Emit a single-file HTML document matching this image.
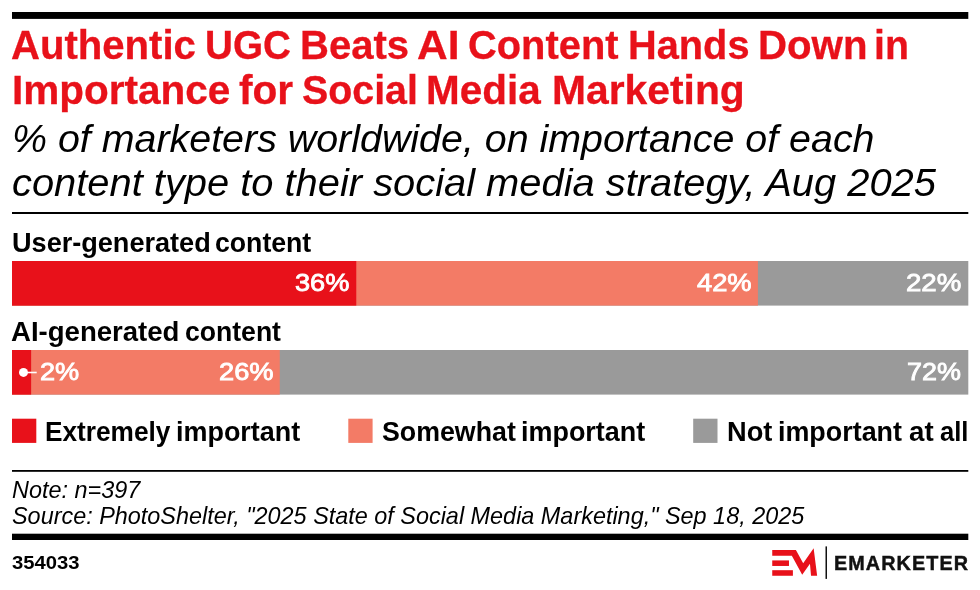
<!DOCTYPE html>
<html lang="en"><head><meta charset="utf-8"><title>Authentic UGC Beats AI Content Hands Down in Importance for Social Media Marketing</title>
<style>
html,body{margin:0;padding:0;background:#fff}
body{width:980px;height:590px;position:relative;overflow:hidden;font-family:"Liberation Sans", Arial, sans-serif}
h1,h2,h3,p,figure,figcaption,ul,li{margin:0;padding:0;font-size:inherit;font-weight:inherit;list-style:none}
.gfx{position:absolute;left:0;top:0;display:block}
.t{position:absolute;white-space:nowrap;line-height:1;transform-origin:0 0;margin:0}
.h1a0{left:11.34px;top:26.00px;font-size:40.2px;font-weight:700;font-style:normal;color:#e8111a;transform:scaleX(0.9977);-webkit-text-stroke:0.3px #e8111a;}
.h1a1{left:204.91px;top:26.00px;font-size:40.2px;font-weight:700;font-style:normal;color:#e8111a;transform:scaleX(0.9617);-webkit-text-stroke:0.3px #e8111a;}
.h1a2{left:300.05px;top:26.00px;font-size:40.2px;font-weight:700;font-style:normal;color:#e8111a;transform:scaleX(0.9969);-webkit-text-stroke:0.3px #e8111a;}
.h1a3{left:417.03px;top:26.00px;font-size:40.2px;font-weight:700;font-style:normal;color:#e8111a;transform:scaleX(1.0564);-webkit-text-stroke:0.3px #e8111a;}
.h1a4{left:467.95px;top:26.00px;font-size:40.2px;font-weight:700;font-style:normal;color:#e8111a;transform:scaleX(0.9915);-webkit-text-stroke:0.3px #e8111a;}
.h1a5{left:627.87px;top:26.00px;font-size:40.2px;font-weight:700;font-style:normal;color:#e8111a;transform:scaleX(0.9892);-webkit-text-stroke:0.3px #e8111a;}
.h1a6{left:757.94px;top:26.00px;font-size:40.2px;font-weight:700;font-style:normal;color:#e8111a;transform:scaleX(1.0008);-webkit-text-stroke:0.3px #e8111a;}
.h1a7{left:873.79px;top:26.00px;font-size:40.2px;font-weight:700;font-style:normal;color:#e8111a;transform:scaleX(0.9763);-webkit-text-stroke:0.3px #e8111a;}
.h1b0{left:12.13px;top:71.00px;font-size:40.2px;font-weight:700;font-style:normal;color:#e8111a;transform:scaleX(1.0079);-webkit-text-stroke:0.3px #e8111a;}
.h1b1{left:238.94px;top:71.00px;font-size:40.2px;font-weight:700;font-style:normal;color:#e8111a;transform:scaleX(1.0103);-webkit-text-stroke:0.3px #e8111a;}
.h1b2{left:301.69px;top:71.00px;font-size:40.2px;font-weight:700;font-style:normal;color:#e8111a;transform:scaleX(0.9788);-webkit-text-stroke:0.3px #e8111a;}
.h1b3{left:425.93px;top:71.00px;font-size:40.2px;font-weight:700;font-style:normal;color:#e8111a;transform:scaleX(1.0069);-webkit-text-stroke:0.3px #e8111a;}
.h1b4{left:552.11px;top:71.00px;font-size:40.2px;font-weight:700;font-style:normal;color:#e8111a;transform:scaleX(1.0156);-webkit-text-stroke:0.3px #e8111a;}
.h2a{left:12.46px;top:120.00px;font-size:38.4px;font-weight:400;font-style:italic;color:#000;transform:scaleX(1.0259);}
.h2b{left:11.74px;top:164.00px;font-size:38.4px;font-weight:400;font-style:italic;color:#000;transform:scaleX(1.0382);}
.cat1_0{left:11.68px;top:229.00px;font-size:27.9px;font-weight:700;font-style:normal;color:#000;transform:scaleX(0.9712);}
.cat1_1{left:215.30px;top:229.00px;font-size:27.9px;font-weight:700;font-style:normal;color:#000;transform:scaleX(0.9556);}
.cat2_0{left:11.43px;top:318.00px;font-size:27.9px;font-weight:700;font-style:normal;color:#000;transform:scaleX(0.9880);}
.cat2_1{left:184.50px;top:318.00px;font-size:27.9px;font-weight:700;font-style:normal;color:#000;transform:scaleX(0.9530);}
.v36{left:295.40px;top:271.00px;font-size:24.8px;font-weight:400;font-style:normal;color:#fff;transform:scaleX(1.0957);-webkit-text-stroke:0.85px #fff;}
.v42{left:696.89px;top:271.00px;font-size:24.8px;font-weight:400;font-style:normal;color:#fff;transform:scaleX(1.1003);-webkit-text-stroke:0.85px #fff;}
.v22{left:906.08px;top:271.00px;font-size:24.8px;font-weight:400;font-style:normal;color:#fff;transform:scaleX(1.1147);-webkit-text-stroke:0.85px #fff;}
.v2{left:39.74px;top:360.00px;font-size:24.8px;font-weight:400;font-style:normal;color:#fff;transform:scaleX(1.0951);-webkit-text-stroke:0.85px #fff;}
.v26{left:218.79px;top:360.00px;font-size:24.8px;font-weight:400;font-style:normal;color:#fff;transform:scaleX(1.0982);-webkit-text-stroke:0.85px #fff;}
.v72{left:907.49px;top:360.00px;font-size:24.8px;font-weight:400;font-style:normal;color:#fff;transform:scaleX(1.0862);-webkit-text-stroke:0.85px #fff;}
.lg1_0{left:45.35px;top:418.00px;font-size:27.6px;font-weight:700;font-style:normal;color:#000;transform:scaleX(0.9503);}
.lg1_1{left:176.13px;top:418.00px;font-size:27.6px;font-weight:700;font-style:normal;color:#000;transform:scaleX(0.9766);}
.lg2_0{left:381.54px;top:418.00px;font-size:27.6px;font-weight:700;font-style:normal;color:#000;transform:scaleX(0.9695);}
.lg2_1{left:521.03px;top:418.00px;font-size:27.6px;font-weight:700;font-style:normal;color:#000;transform:scaleX(0.9766);}
.lg3_0{left:726.68px;top:418.00px;font-size:27.6px;font-weight:700;font-style:normal;color:#000;transform:scaleX(0.9863);}
.lg3_1{left:778.23px;top:418.00px;font-size:27.6px;font-weight:700;font-style:normal;color:#000;transform:scaleX(0.9743);}
.lg3_2{left:908.75px;top:418.00px;font-size:27.6px;font-weight:700;font-style:normal;color:#000;transform:scaleX(1.0032);}
.lg3_3{left:939.91px;top:418.00px;font-size:27.6px;font-weight:700;font-style:normal;color:#000;transform:scaleX(0.9281);}
.note{left:11.98px;top:479.00px;font-size:23.2px;font-weight:400;font-style:italic;color:#000;transform:scaleX(1.0100);}
.src{left:12.08px;top:505.00px;font-size:23.2px;font-weight:400;font-style:italic;color:#000;transform:scaleX(1.0096);}
.id{left:12.02px;top:553.00px;font-size:19.0px;font-weight:700;font-style:normal;color:#000;transform:scaleX(1.0655);}
.brand{left:834.34px;top:553.00px;font-size:20.9px;font-weight:700;font-style:normal;color:#111;transform:scaleX(0.9470);letter-spacing:0.055em;-webkit-text-stroke:0.45px #111;}
</style></head><body>
<svg class="gfx" width="980" height="590" viewBox="0 0 980 590" aria-hidden="true">
<!-- rules -->
<rect x="12" y="12" width="956.3" height="6.9" fill="#000"/>
<rect x="12" y="212" width="956.3" height="2" fill="#000"/>
<rect x="12" y="470" width="956.3" height="1.8" fill="#000"/>
<rect x="12" y="533.7" width="956.3" height="6.3" fill="#000"/>
<!-- stacked bar: user-generated content -->
<rect x="12.0" y="261" width="956.30" height="44.6" fill="#9a9a9a"/>
<rect x="12.0" y="261" width="745.91" height="44.6" fill="#f37b66"/>
<rect x="12.0" y="261" width="344.27" height="44.6" fill="#e8111a"/>
<!-- stacked bar: AI-generated content -->
<rect x="12.0" y="350" width="956.30" height="44.6" fill="#9a9a9a"/>
<rect x="12.0" y="350" width="267.76" height="44.6" fill="#f37b66"/>
<rect x="12.0" y="350" width="19.13" height="44.6" fill="#e8111a"/>
<circle cx="23.5" cy="372.4" r="4.5" fill="#fff"/><rect x="23.5" y="371.7" width="13.2" height="1.6" fill="#fff"/>
<!-- legend swatches -->
<rect x="12" y="418.7" width="24.3" height="24.2" fill="#e8111a"/>
<rect x="348.3" y="418.7" width="24.3" height="24.2" fill="#f37b66"/>
<rect x="693.2" y="418.7" width="24.3" height="24.2" fill="#9a9a9a"/>
<!-- EM logo mark -->
<polygon fill="#e8111a" points="772.24,549.96 795.92,549.96 803.18,563.27 813.63,548.16 817.14,575.76 811.02,575.76 809.96,563.67 802.2,574.69 791.84,555.67 772.24,555.67"/>
<rect fill="#e8111a" x="772.24" y="560.41" width="16.74" height="5.55"/>
<rect fill="#e8111a" x="772.24" y="570.2" width="20.66" height="5.56"/>
<rect fill="#111" x="825.5" y="546.4" width="1.5" height="32.5"/>
</svg>
<h1><span class="t h1a0">Authentic</span> <span class="t h1a1">UGC</span> <span class="t h1a2">Beats</span> <span class="t h1a3">AI</span> <span class="t h1a4">Content</span> <span class="t h1a5">Hands</span> <span class="t h1a6">Down</span> <span class="t h1a7">in</span> <span class="t h1b0">Importance</span> <span class="t h1b1">for</span> <span class="t h1b2">Social</span> <span class="t h1b3">Media</span> <span class="t h1b4">Marketing</span></h1>
<h2><span class="t h2a">% of marketers worldwide, on importance of each</span> <span class="t h2b">content type to their social media strategy, Aug 2025</span></h2>
<figure>
<h3><span class="t cat1_0">User-generated</span> <span class="t cat1_1">content</span></h3>
<span class="t v36">36%</span><span class="t v42">42%</span><span class="t v22">22%</span>
<h3><span class="t cat2_0">AI-generated</span> <span class="t cat2_1">content</span></h3>
<span class="t v2">2%</span><span class="t v26">26%</span><span class="t v72">72%</span>
<figcaption><ul><li><span class="t lg1_0">Extremely</span> <span class="t lg1_1">important</span></li><li><span class="t lg2_0">Somewhat</span> <span class="t lg2_1">important</span></li><li><span class="t lg3_0">Not</span> <span class="t lg3_1">important</span> <span class="t lg3_2">at</span> <span class="t lg3_3">all</span></li></ul></figcaption>
</figure>
<span class="t note">Note: n=397</span>
<span class="t src">Source: PhotoShelter, "2025 State of Social Media Marketing," Sep 18, 2025</span>
<span class="t id">354033</span>
<span class="t brand">EMARKETER</span>
</body></html>
